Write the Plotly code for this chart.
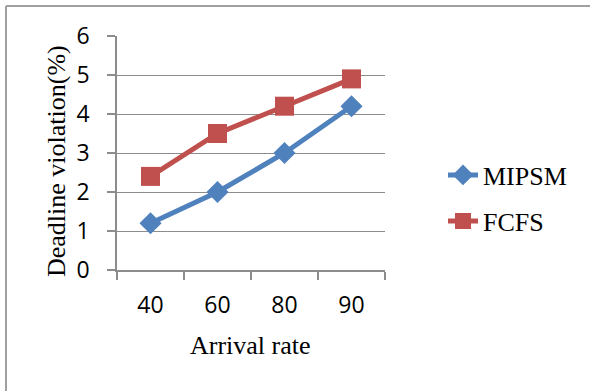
import plotly.graph_objects as go

categories = ["40", "60", "80", "90"]
mipsm = [1.2, 2.0, 3.0, 4.2]
fcfs = [2.4, 3.5, 4.2, 4.9]
y_ticks = [0, 1, 2, 3, 4, 5, 6]

W, H = 590, 391
L, R, T, B = 117, 385, 36, 270  # plot area in px

def px_x(x):
    return (x - L) / (R - L)

def px_y(y):
    return (B - y) / (B - T)

blue = "#4F81BD"
red = "#C0504D"
grid = "#8C8C8C"

fig = go.Figure()
fig.add_trace(go.Scatter(
    x=categories, y=mipsm, name="MIPSM", mode="lines+markers",
    line=dict(color=blue, width=5),
    marker=dict(symbol="diamond", size=17, color=blue),
    legend="legend",
))
fig.add_trace(go.Scatter(
    x=categories, y=fcfs, name="FCFS", mode="lines+markers",
    line=dict(color=red, width=5),
    marker=dict(symbol="square", size=19, color=red),
    legend="legend2",
))

legend_font = dict(family="Liberation Serif", size=26, color="black")
tick_font = dict(family="Open Sans", size=23, color="black")
fig.update_layout(
    width=W, height=H,
    margin=dict(l=L, r=W - R, t=T, b=H - B, pad=0),
    paper_bgcolor="white", plot_bgcolor="white",
    showlegend=True,
    legend=dict(x=px_x(443), y=px_y(175), xanchor="left", yanchor="middle",
                font=legend_font, bgcolor="rgba(0,0,0,0)", borderwidth=0),
    legend2=dict(x=px_x(443), y=px_y(221), xanchor="left", yanchor="middle",
                 font=legend_font, bgcolor="rgba(0,0,0,0)", borderwidth=0),
    xaxis=dict(
        type="category", range=[-0.5, 3.5],
        showgrid=False, showline=True, linecolor=grid, linewidth=1.5,
        ticks="outside", ticklen=8, tickcolor=grid, tickwidth=1.5,
        tickson="boundaries", ticklabelstandoff=14,
        tickfont=tick_font,
        zeroline=False,
    ),
    yaxis=dict(
        range=[0, 6], tickvals=y_ticks,
        showgrid=True, gridcolor=grid, gridwidth=1,
        showline=True, linecolor=grid, linewidth=1.5,
        ticks="outside", ticklen=8, tickcolor=grid, tickwidth=1.5,
        ticklabelstandoff=13,
        tickfont=tick_font,
        zeroline=False,
    ),
    annotations=[
        dict(text="Arrival rate", xref="paper", yref="paper",
             x=px_x(250), y=px_y(345), xanchor="center", yanchor="middle",
             showarrow=False, font=legend_font),
        dict(text="Deadline violation(%)", xref="paper", yref="paper",
             x=px_x(56), y=px_y(161), xanchor="center", yanchor="middle",
             textangle=-90, showarrow=False, font=legend_font),
    ],
    shapes=[
        dict(type="line", xref="paper", yref="paper",
             x0=px_x(6), x1=px_x(W), y0=px_y(6), y1=px_y(6),
             line=dict(color="#A0A0A0", width=2)),
        dict(type="line", xref="paper", yref="paper",
             x0=px_x(6), x1=px_x(6), y0=px_y(6), y1=px_y(H),
             line=dict(color="#A0A0A0", width=2)),
    ],
)

fig.write_html("out.html")
